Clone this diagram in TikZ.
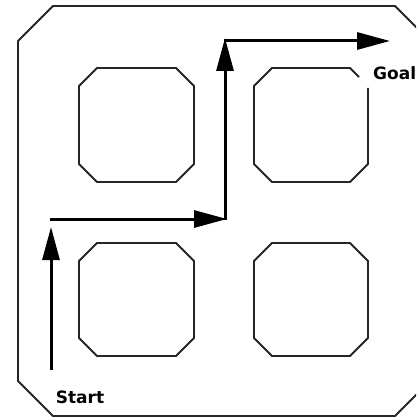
\documentclass[tikz,border=0pt]{standalone}
\usepackage{fontspec}
\setmainfont{DejaVu Sans}
\usetikzlibrary{arrows.meta}
\tikzset{
  boxline/.style={line width=1.8pt, line join=miter, draw=black!85},
  pathline/.style={line width=3pt, -{Triangle[length=33pt,width=17pt]}},
  lbl/.style={font=\bfseries\fontsize{17}{20}\selectfont, inner sep=0pt},
}
\begin{document}
\begin{tikzpicture}[x=1pt,y=-1pt]
\useasboundingbox (0,0) rectangle (416,417);
\clip (0,0) rectangle (416,417);
% outer octagon
\draw[boxline] (18,41) -- (53,6) -- (395,6) -- (430,41) -- (430,381) -- (395,416) -- (53,416) -- (18,381) -- cycle;
% inner boxes
\draw[boxline] (79,86) -- (97,68) -- (176,68) -- (194,86) -- (194,164) -- (176,182) -- (97,182) -- (79,164) -- cycle;
\draw[boxline] (368,88) -- (368,164) -- (350,182) -- (272,182) -- (254,164) -- (254,86) -- (272,68) -- (350,68) -- (359,77);
\draw[boxline] (79,261) -- (97,243) -- (176,243) -- (194,261) -- (194,338) -- (176,356) -- (97,356) -- (79,338) -- cycle;
\draw[boxline] (254,261) -- (272,243) -- (350,243) -- (368,261) -- (368,338) -- (350,356) -- (272,356) -- (254,338) -- cycle;
% labels
\node[lbl, anchor=center] (start) at (80,397) {Start};
\node[lbl, anchor=west] (goal) at (373,73) {Goal};
% path coordinates
\coordinate (s0) at (51,370);
\coordinate (s1) at (51,227);
\coordinate (h0) at (50,219);
\coordinate (h1) at (227,219);
\coordinate (v0) at (225,220);
\coordinate (v1) at (225,38);
\coordinate (g0) at (224,41);
\coordinate (g1) at (390,41);
\draw[pathline] (s0) -- (s1);
\draw[pathline] (h0) -- (h1);
\draw[pathline] (v0) -- (v1);
\draw[pathline] (g0) -- (g1);
\end{tikzpicture}
\end{document}
